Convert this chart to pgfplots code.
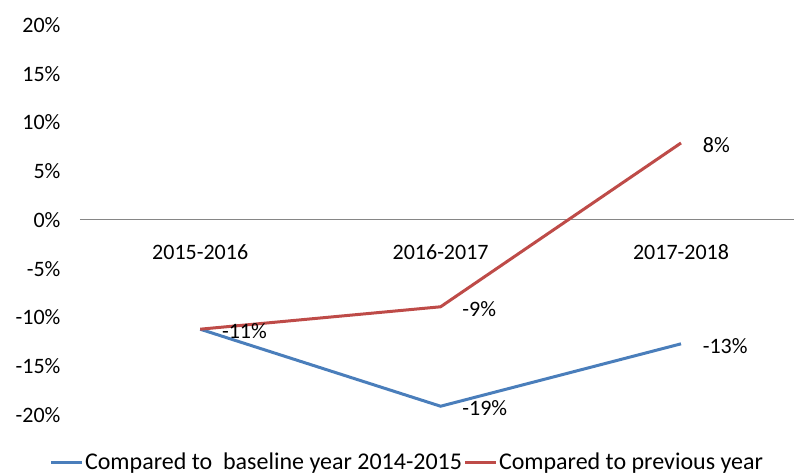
\documentclass[border=0pt]{standalone}
\usepackage{pgfplots}
\pgfplotsset{compat=1.18}
\usepackage{fontspec}
\setmainfont{Carlito}
\definecolor{sblue}{RGB}{74,126,187}
\definecolor{sred}{RGB}{190,75,72}
\definecolor{axgray}{RGB}{134,134,134}
\newcommand{\cf}{\fontsize{22bp}{26bp}\selectfont}
\newcommand{\lf}{\fontsize{24bp}{28bp}\selectfont}
\begin{document}
\cf
\begin{tikzpicture}
\useasboundingbox (-80bp,-59bp) rectangle (714bp,415bp);
\begin{axis}[
  at={(0,0)}, anchor=south west,
  scale only axis, width=714bp, height=390bp,
  xmin=-0.5, xmax=2.47, ymin=-20, ymax=20,
  axis x line=middle, axis y line=left,
  x axis line style={-, draw=axgray, line width=1bp},
  y axis line style={draw=none},
  major tick length=0pt,
  xtick={0,1,2},
  xticklabels={2015-2016,2016-2017,2017-2018},
  xticklabel style={yshift=-17bp, font=\cf},
  ytick={-20,-15,...,20},
  yticklabel={\pgfmathprintnumber{\tick}\%},
  yticklabel style={xshift=-12bp, font=\cf},
  /pgf/number format/assume math mode=true,
  clip=false,
  point meta=explicit symbolic,
  nodes near coords,
  nodes near coords style={anchor=west, xshift=13bp, yshift=-2bp, text=black, font=\cf},
  legend columns=2,
  legend style={at={(0.458,-0.122)}, anchor=center, draw=none, fill=none,
    font=\lf, column sep=0bp, inner sep=0pt, nodes={inner sep=1.5bp}},
  legend image code/.code={\draw[#1] (0bp,0bp) -- (31bp,0bp);},
]
\addplot[sblue, line width=3bp, mark=none] coordinates {
  (0,-11.2) [-11\%]
  (1,-19.1) [-19\%]
  (2,-12.7) [-13\%]
};
\addlegendentry{Compared to\ \ baseline year 2014-2015}
\addplot[sred, line width=3bp, mark=none] coordinates {
  (0,-11.2) []
  (1,-8.9) [-9\%]
  (2,7.9) [8\%]
};
\addlegendentry{Compared to previous year}
\end{axis}
\end{tikzpicture}
\end{document}
